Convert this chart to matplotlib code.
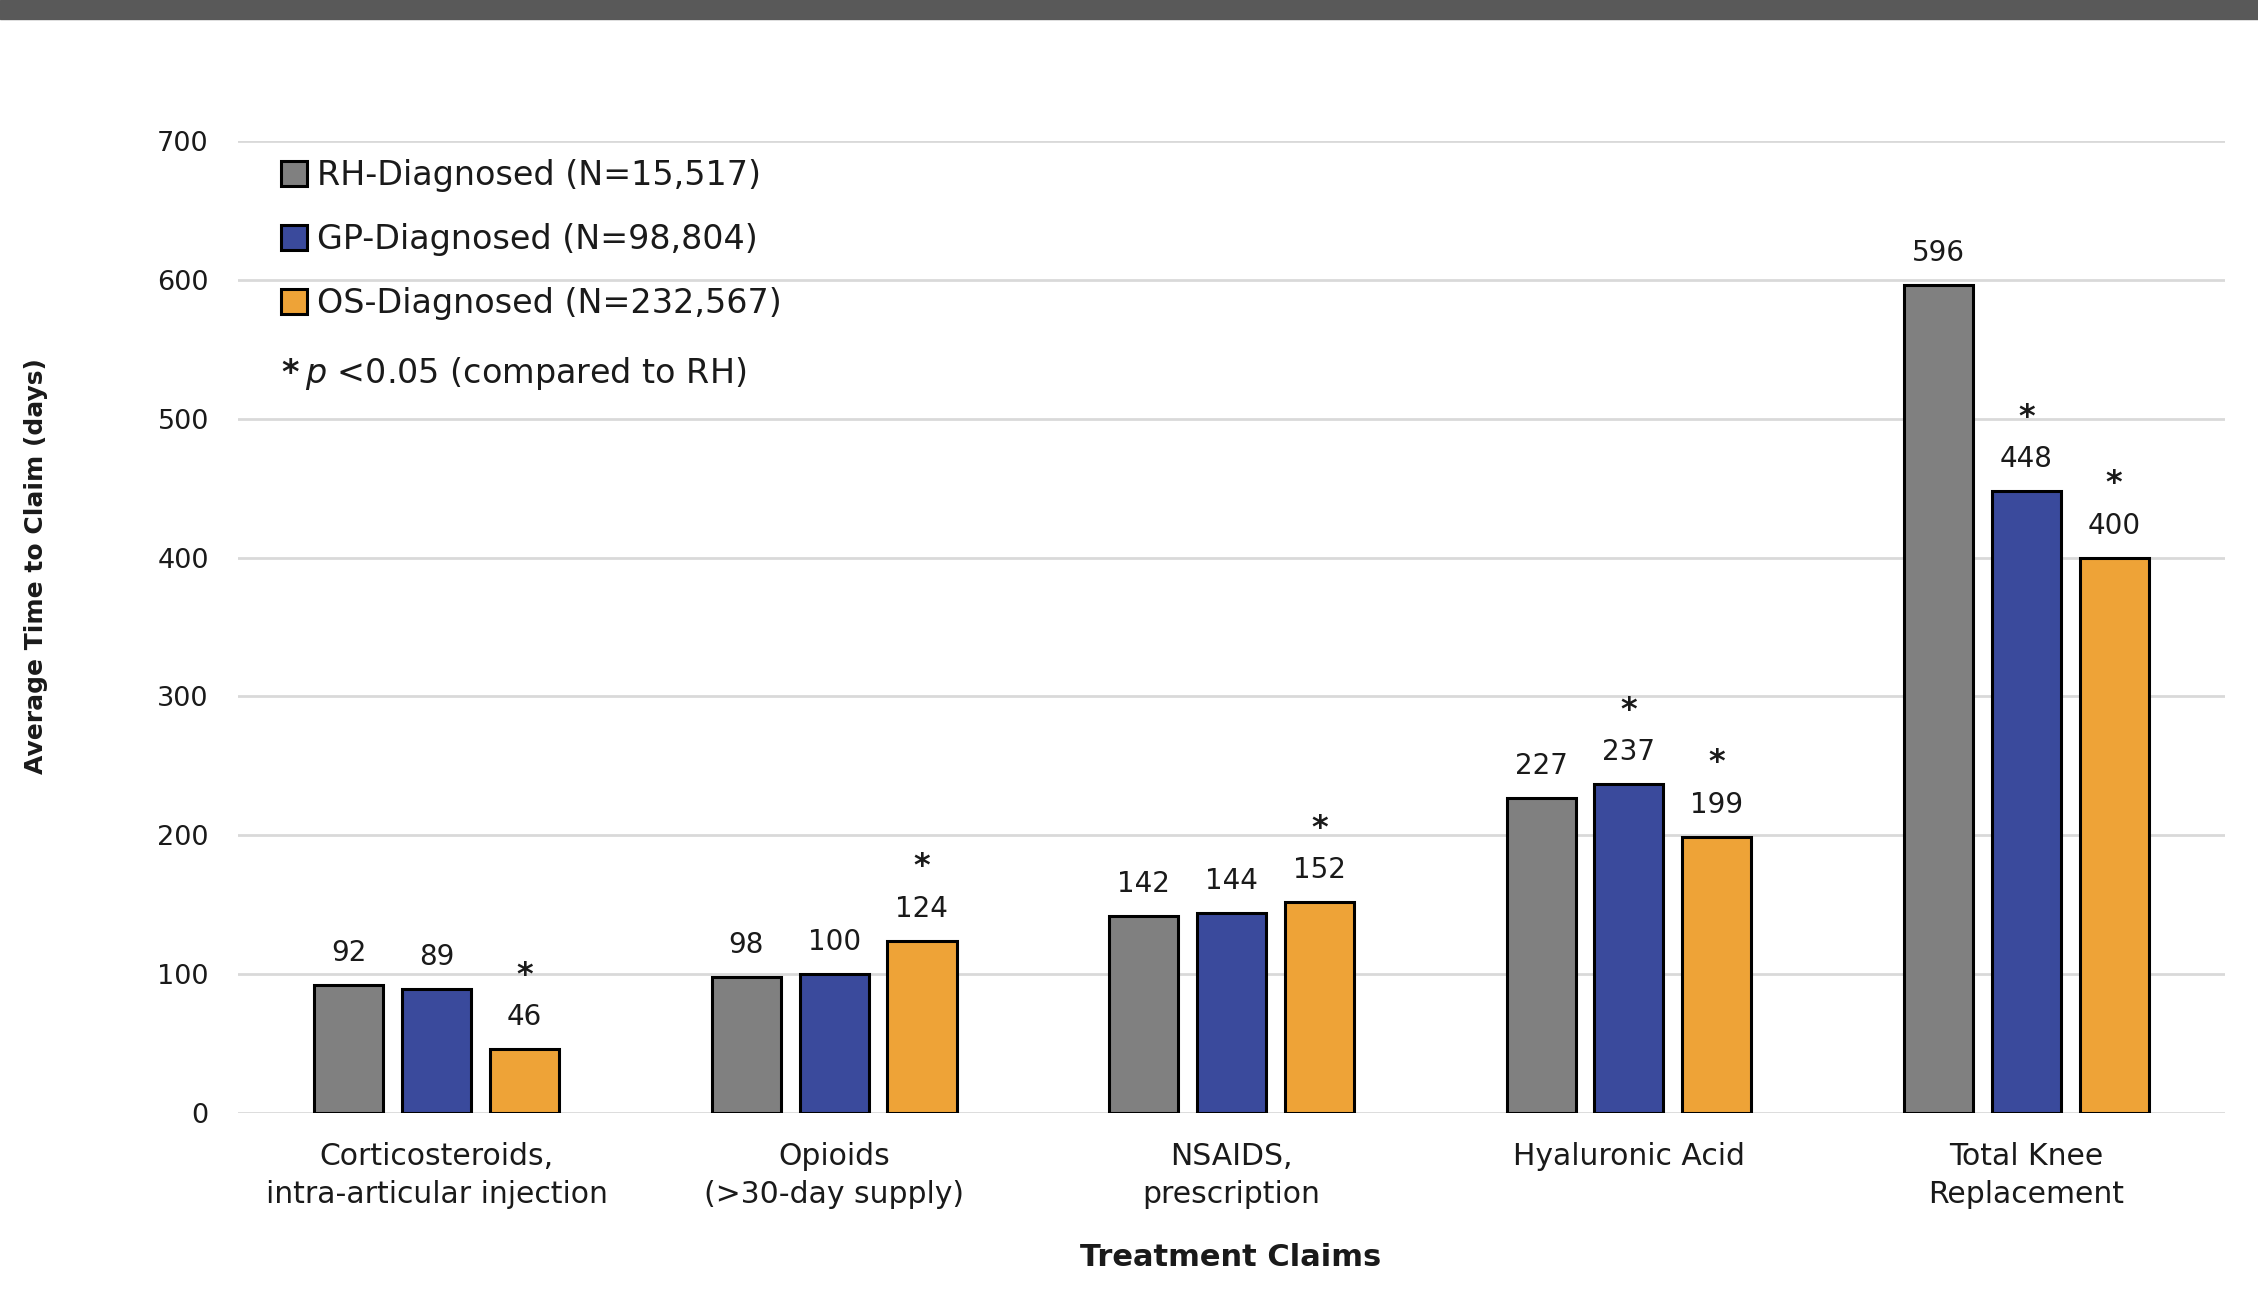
import numpy as np
import matplotlib.pyplot as plt
from matplotlib.patches import Rectangle

categories = ['Corticosteroids,\nintra-articular injection', 'Opioids\n(>30-day supply)',
              'NSAIDS,\nprescription', 'Hyaluronic Acid', 'Total Knee\nReplacement']
groups = ['RH-Diagnosed (N=15,517)', 'GP-Diagnosed (N=98,804)', 'OS-Diagnosed (N=232,567)']
rh = [92, 98, 142, 227, 596]
gp = [89, 100, 144, 237, 448]
os_ = [46, 124, 152, 199, 400]
# significance vs RH
sig_gp = [False, False, False, True, True]
sig_os = [True, True, True, True, True]

colors = ['#808080', '#3a4a9c', '#eea337']
series = [rh, gp, os_]
sigs = [[False] * 5, sig_gp, sig_os]

fig = plt.figure(figsize=(22.58, 13.12), dpi=100)
ax = fig.add_axes([0.1054, 0.1517, 0.88, 0.7408])

# dark band at the top (title cut off)
fig.patches.append(Rectangle((0, 1 - 19 / 1312), 1, 19 / 1312, transform=fig.transFigure,
                             color='#595959', zorder=0))

x = np.arange(len(categories))
pitch = 0.221
width = 0.174
handles = []
for i, (vals, c, sg) in enumerate(zip(series, colors, sigs)):
    pos = x + (i - 1) * pitch
    b = ax.bar(pos, vals, width, color=c, edgecolor='black', linewidth=2.2, zorder=3)
    handles.append(b)
    for xp, v, s in zip(pos, vals, sg):
        ax.annotate(str(v), (xp, v), xytext=(0, 13), textcoords='offset points',
                    ha='center', va='bottom', fontsize=20, color='#1a1a1a')
        if s:
            ax.annotate('*', (xp, v), xytext=(0, 42), textcoords='offset points',
                        ha='center', va='bottom', fontsize=23, fontweight='bold', color='#1a1a1a')

ax.set_xlim(-0.5, 4.5)
ax.set_ylim(0, 700)
ax.set_yticks(np.arange(0, 701, 100))
ax.yaxis.grid(True, color='#d9d9d9', linewidth=2)
ax.set_axisbelow(True)
for s in ax.spines.values():
    s.set_visible(False)
ax.tick_params(axis='y', length=0, pad=21, labelsize=19.5, labelcolor='#1a1a1a')
ax.set_xticks(x)
ax.set_xticklabels(categories, fontsize=21.5, linespacing=1.4, color='#1a1a1a')
ax.tick_params(axis='x', length=0, pad=21)

leg = ax.legend(handles, groups, loc='upper left', bbox_to_anchor=(0.1244, 0.879),
                bbox_transform=fig.transFigure, frameon=False, fontsize=24,
                borderpad=0, labelspacing=0.93, handlelength=0.78, handleheight=0.78,
                handletextpad=0.3, borderaxespad=0)
for t in leg.get_texts():
    t.set_color('#1a1a1a')

fig.text(281 / 2258, 1 - 373 / 1312, '*', fontsize=24, fontweight='bold', va='center', color='#1a1a1a')
fig.text(305 / 2258, 1 - 373 / 1312, r'$p$ <0.05 (compared to RH)', fontsize=24,
         va='center', color='#1a1a1a')

fig.text(36 / 2258, 1 - 566 / 1312, 'Average Time to Claim (days)', rotation=90,
         ha='center', va='center', fontsize=18, fontweight='bold', color='#1a1a1a')
fig.text(1231 / 2258, 1 - 1257 / 1312, 'Treatment Claims', ha='center', va='center',
         fontsize=22, fontweight='bold', color='#1a1a1a')

fig.savefig('out.png', dpi=100)
